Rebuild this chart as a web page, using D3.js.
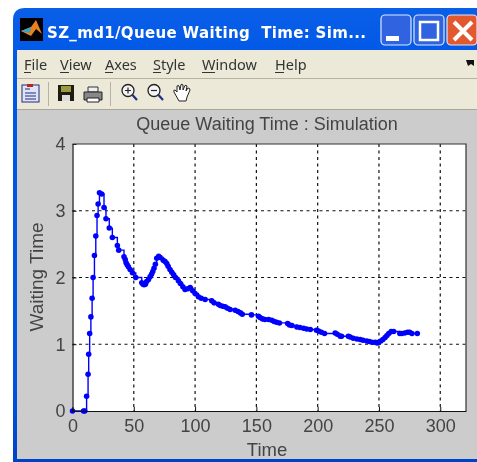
<!DOCTYPE html>
<html>
<head>
<meta charset="utf-8">
<style>
html, body { margin: 0; padding: 0; background: #fff; overflow: hidden; }
svg { display: block; filter: blur(0.45px); }
</style>
<script src="https://cdn.jsdelivr.net/npm/d3@7"></script>
</head>
<body>
<div id="chart"></div>
<script>
var chartTitle = "Queue Waiting Time : Simulation";
var windowTitle = "SZ_md1/Queue Waiting  Time: Sim...";
var menuItems = ["File", "View", "Axes", "Style", "Window", "Help"];
var xTicks = [0, 50, 100, 150, 200, 250, 300];
var yTicks = [0, 1, 2, 3, 4];

var times = [0, 9, 10, 11.5, 12.7, 13.2, 14, 15, 16, 16.8, 17.9, 19, 20, 20.9, 22, 23.8, 25.7, 27.3, 30, 32.5,
    36.6, 37.7, 42, 43, 43.7, 44.6, 45.6, 47, 48.9, 51.6, 56.5, 57.5, 58.4, 59.5, 60.5, 62, 63.3, 64.5, 65.5, 66.5, 67.6, 68.7, 70.3,
    71.5, 74, 75.5, 76.9, 78, 79.5, 81, 82.5, 84, 86.4, 88, 90, 91.8, 94, 96, 98, 100, 102.7, 105, 108.2, 113.6, 115.5, 119, 120.5,
    122.5, 124.5, 126.5, 128.6, 132.7, 135, 137, 138.5, 146, 151.7, 153, 155, 157, 160, 162.6, 164.5, 166.5, 168.8,
    175.5, 177, 179, 183, 185.5, 188.5, 191, 194, 199, 200.7, 203, 205.6, 214.3, 216, 218.4, 219.5, 225, 226.5, 229, 232, 234.7, 237,
    240, 242, 244.2, 247, 248.5, 249.7, 251.5, 253.2, 255, 256.5, 258, 260, 262, 267, 268.5, 271, 273.3, 275, 276.9, 281.3];
var waits = [0, 0, 0, 0.22, 0.55, 0.85, 1.16, 1.41, 1.69, 2.0, 2.33, 2.62, 2.93, 3.1, 3.27, 3.25, 3.05, 2.88, 2.74, 2.6,
    2.48, 2.41, 2.31, 2.27, 2.22, 2.19, 2.16, 2.12, 2.07, 2.0, 1.92, 1.9, 1.89, 1.9, 1.94, 1.97, 2.01, 2.05, 2.09, 2.14, 2.2, 2.29, 2.32,
    2.3, 2.26, 2.24, 2.21, 2.17, 2.12, 2.08, 2.04, 2.0, 1.95, 1.91, 1.86, 1.82, 1.83, 1.85, 1.8, 1.76, 1.71, 1.69, 1.67, 1.65, 1.62, 1.6, 1.58,
    1.57, 1.56, 1.54, 1.52, 1.51, 1.49, 1.47, 1.45, 1.44, 1.42, 1.4, 1.38, 1.37, 1.37, 1.36, 1.34, 1.33, 1.32,
    1.31, 1.29, 1.28, 1.26, 1.25, 1.24, 1.23, 1.22, 1.21, 1.2, 1.18, 1.16, 1.17, 1.15, 1.12, 1.12, 1.12, 1.11, 1.09, 1.08, 1.07, 1.06,
    1.05, 1.04, 1.03, 1.03, 1.02, 1.03, 1.05, 1.07, 1.1, 1.13, 1.16, 1.19, 1.19, 1.16, 1.16, 1.17, 1.18, 1.18, 1.16, 1.16];

var width = 477;
var height = 462;
var plot = { left: 72.5, right: 466, top: 144, bottom: 411 };

var svg = d3.select("#chart").append("svg")
    .attr("width", width)
    .attr("height", height)
    .style("font-family", "'Liberation Sans', Arial, sans-serif");

var defs = svg.append("defs");
var titleGrad = defs.append("linearGradient").attr("id", "titlebar")
    .attr("x1", 0).attr("x2", 0).attr("y1", 0).attr("y2", 1);
titleGrad.append("stop").attr("offset", "0%").attr("stop-color", "#0a5fe8");
titleGrad.append("stop").attr("offset", "12%").attr("stop-color", "#0058e6");
titleGrad.append("stop").attr("offset", "85%").attr("stop-color", "#0051df");
titleGrad.append("stop").attr("offset", "100%").attr("stop-color", "#0042c8");

// window frame
svg.append("path")
    .attr("d", "M13,462V20Q13,8 25,8H477V462Z")
    .attr("fill", "url(#titlebar)");
svg.append("rect").attr("x", 17).attr("y", 50).attr("width", 460).attr("height", 28).attr("fill", "#ece9d8");
svg.append("rect").attr("x", 17).attr("y", 78).attr("width", 460).attr("height", 1).attr("fill", "#b5b2a4");
svg.append("rect").attr("x", 17).attr("y", 79).attr("width", 460).attr("height", 30).attr("fill", "#ece9d8");
svg.append("rect").attr("x", 17).attr("y", 109).attr("width", 460).attr("height", 1).attr("fill", "#a9a79c");
svg.append("rect").attr("x", 17).attr("y", 110).attr("width", 460).attr("height", 349).attr("fill", "#cccccc");

// title bar
svg.append("rect").attr("x", 20).attr("y", 18).attr("width", 23).attr("height", 23).attr("fill", "#000");
svg.append("path").attr("d", "M21,31L31,27L36,20L42,34L36,29L31,36Z").attr("fill", "#e8811f");
svg.append("path").attr("d", "M21,31L31,27L30,33Z").attr("fill", "#3b9fc2");
svg.append("text").attr("x", 47).attr("y", 38)
    .attr("font-family", "'DejaVu Sans', Verdana, sans-serif")
    .attr("font-weight", "bold").attr("font-size", 15).attr("fill", "#fff")
    .attr("textLength", 319).attr("lengthAdjust", "spacing")
    .style("white-space", "pre")
    .text(windowTitle);

// window buttons
var btn = svg.append("g");
[[381, "#2f63e0"], [414, "#2f63e0"], [447, "#e2582f"]].forEach(function(b) {
    btn.append("rect").attr("x", b[0]).attr("y", 15).attr("width", 30).attr("height", 30).attr("rx", 4)
        .attr("fill", b[1]).attr("stroke", "#dfe8fb").attr("stroke-width", 1.2);
});
btn.append("rect").attr("x", 386).attr("y", 36).attr("width", 13).attr("height", 5).attr("fill", "#fff");
btn.append("rect").attr("x", 420).attr("y", 22).attr("width", 18).attr("height", 18)
    .attr("fill", "none").attr("stroke", "#fff").attr("stroke-width", 2.5);
btn.append("path").attr("d", "M454,22L472,40M472,22L454,40").attr("stroke", "#fff").attr("stroke-width", 4);

// menu bar, first letter is underlined like on the real window
var menuX = [24, 60, 105, 153, 202, 275];
var menuW = [7, 9, 8, 8, 13, 9];
menuItems.forEach(function(m, i) {
    svg.append("text").attr("x", menuX[i]).attr("y", 70)
        .attr("font-family", "'Noto Sans', 'DejaVu Sans', sans-serif")
        .attr("font-size", 14.5).attr("fill", "#333").text(m);
    svg.append("line").attr("x1", menuX[i]).attr("x2", menuX[i] + menuW[i])
        .attr("y1", 72.5).attr("y2", 72.5).attr("stroke", "#333");
});
svg.append("path").attr("d", "M466,60L474,60L474,66L471,64L468,66Z").attr("fill", "#111");

// toolbar icons
var tb = svg.append("g");
tb.append("rect").attr("x", 22).attr("y", 85).attr("width", 17).attr("height", 17).attr("fill", "#dfe4f5").attr("stroke", "#222a80");
tb.append("path").attr("d", "M25,89H30M25,93H36M25,96H36M25,99H36").attr("stroke", "#222a80");
tb.append("rect").attr("x", 27).attr("y", 84).attr("width", 6).attr("height", 3).attr("fill", "#c02020");
tb.append("line").attr("x1", 48.5).attr("x2", 48.5).attr("y1", 82).attr("y2", 106).attr("stroke", "#b5b2a4");
tb.append("rect").attr("x", 58).attr("y", 85).attr("width", 16).attr("height", 16).attr("fill", "#1e1e10");
tb.append("rect").attr("x", 61).attr("y", 86).attr("width", 10).attr("height", 6).attr("fill", "#9a9a40");
tb.append("rect").attr("x", 62).attr("y", 95).attr("width", 8).attr("height", 6).attr("fill", "#ddd");
tb.append("path").attr("d", "M88,87H98V92H88Z").attr("fill", "#eee").attr("stroke", "#333");
tb.append("path").attr("d", "M84,92H102V100H84Z").attr("fill", "#888").attr("stroke", "#222");
tb.append("path").attr("d", "M87,98H99V102H87Z").attr("fill", "#fff").attr("stroke", "#222");
tb.append("line").attr("x1", 110.5).attr("x2", 110.5).attr("y1", 82).attr("y2", 106).attr("stroke", "#b5b2a4");
[128, 154].forEach(function(cx, i) {
    tb.append("circle").attr("cx", cx).attr("cy", 90.5).attr("r", 6).attr("fill", "#f4f4f0").attr("stroke", "#222").attr("stroke-width", 1.3);
    tb.append("line").attr("x1", cx + 4.5).attr("y1", 95).attr("x2", cx + 9).attr("y2", 100).attr("stroke", "#1c2f8a").attr("stroke-width", 2.2);
    tb.append("path").attr("d", i === 0 ? "M" + (cx - 3) + ",90.5H" + (cx + 3) + "M" + cx + ",87.5V93.5" : "M" + (cx - 3) + ",90.5H" + (cx + 3))
        .attr("stroke", "#222").attr("stroke-width", 1.2);
});
tb.append("path")
    .attr("d", "M179,101L174,92Q173,90 175,90L177,92L177,86Q178,85 179,86L180,90L181,84.5Q182,84 183,85L183,90L185,85.5Q186,85 187,86L186,91L188,88Q190,88 190,90L187,97L186,101Z")
    .attr("fill", "#fff").attr("stroke", "#222");

// plot
var x = d3.scaleLinear().domain([0, 321]).range([plot.left, plot.right]);
var y = d3.scaleLinear().domain([0, 4]).range([plot.bottom, plot.top]);

svg.append("rect")
    .attr("x", plot.left).attr("y", plot.top)
    .attr("width", plot.right - plot.left).attr("height", plot.bottom - plot.top)
    .attr("fill", "#fff");

var g = svg.append("g");
g.selectAll(".gx").data(xTicks.slice(1)).enter().append("line")
    .attr("x1", x).attr("x2", x).attr("y1", plot.top).attr("y2", plot.bottom)
    .attr("stroke", "#111").attr("stroke-width", 1.2).attr("stroke-dasharray", "3,3.5");
g.selectAll(".gy").data(yTicks.slice(1, 4)).enter().append("line")
    .attr("y1", y).attr("y2", y).attr("x1", plot.left).attr("x2", plot.right)
    .attr("stroke", "#111").attr("stroke-width", 1.2).attr("stroke-dasharray", "3,3.5");

var pts = times.map(function(t, i) { return [t, waits[i]]; });
var line = d3.line()
    .x(function(d) { return x(d[0]); })
    .y(function(d) { return y(d[1]); })
    .curve(d3.curveStepAfter);
g.append("path").datum(pts).attr("d", line)
    .attr("fill", "none").attr("stroke", "#0000ff").attr("stroke-width", 1.4);
g.selectAll(".pt").data(pts).enter().append("path")
    .attr("d", d3.symbol(d3.symbolCircle, 24))
    .attr("transform", function(d) { return "translate(" + x(d[0]) + "," + y(d[1]) + ")"; })
    .attr("fill", "#0000ff");

// axes
var xAxis = d3.axisBottom(x).tickValues(xTicks).tickFormat(d3.format("d")).tickSize(-4).tickPadding(8).tickSizeOuter(0);
var yAxis = d3.axisLeft(y).tickValues(yTicks).tickFormat(d3.format("d")).tickSize(-4).tickPadding(7).tickSizeOuter(0);
var axX = svg.append("g").attr("transform", "translate(0," + plot.bottom + ")").call(xAxis);
var axY = svg.append("g").attr("transform", "translate(" + plot.left + ",0)").call(yAxis);
[axX, axY].forEach(function(a) {
    a.selectAll("text").attr("font-size", 18).attr("font-family", "'Liberation Sans', Arial, sans-serif").attr("fill", "#444");
    a.selectAll("line").attr("stroke", "#111");
    a.select(".domain").attr("stroke", "#111").attr("stroke-width", 1.2);
});
svg.append("path")
    .attr("d", "M" + plot.left + "," + plot.top + "H" + plot.right + "V" + plot.bottom)
    .attr("fill", "none").attr("stroke", "#333").attr("stroke-width", 1.2);

svg.append("text").attr("x", 267).attr("y", 130).attr("text-anchor", "middle")
    .attr("font-size", 18).attr("fill", "#444").text(chartTitle);
svg.append("text").attr("x", 267).attr("y", 456).attr("text-anchor", "middle")
    .attr("font-size", 18.5).attr("fill", "#444").text("Time");
svg.append("text").attr("transform", "translate(43,277) rotate(-90)").attr("text-anchor", "middle")
    .attr("font-size", 19).attr("fill", "#444").text("Waiting Time");
</script>
</body>
</html>
